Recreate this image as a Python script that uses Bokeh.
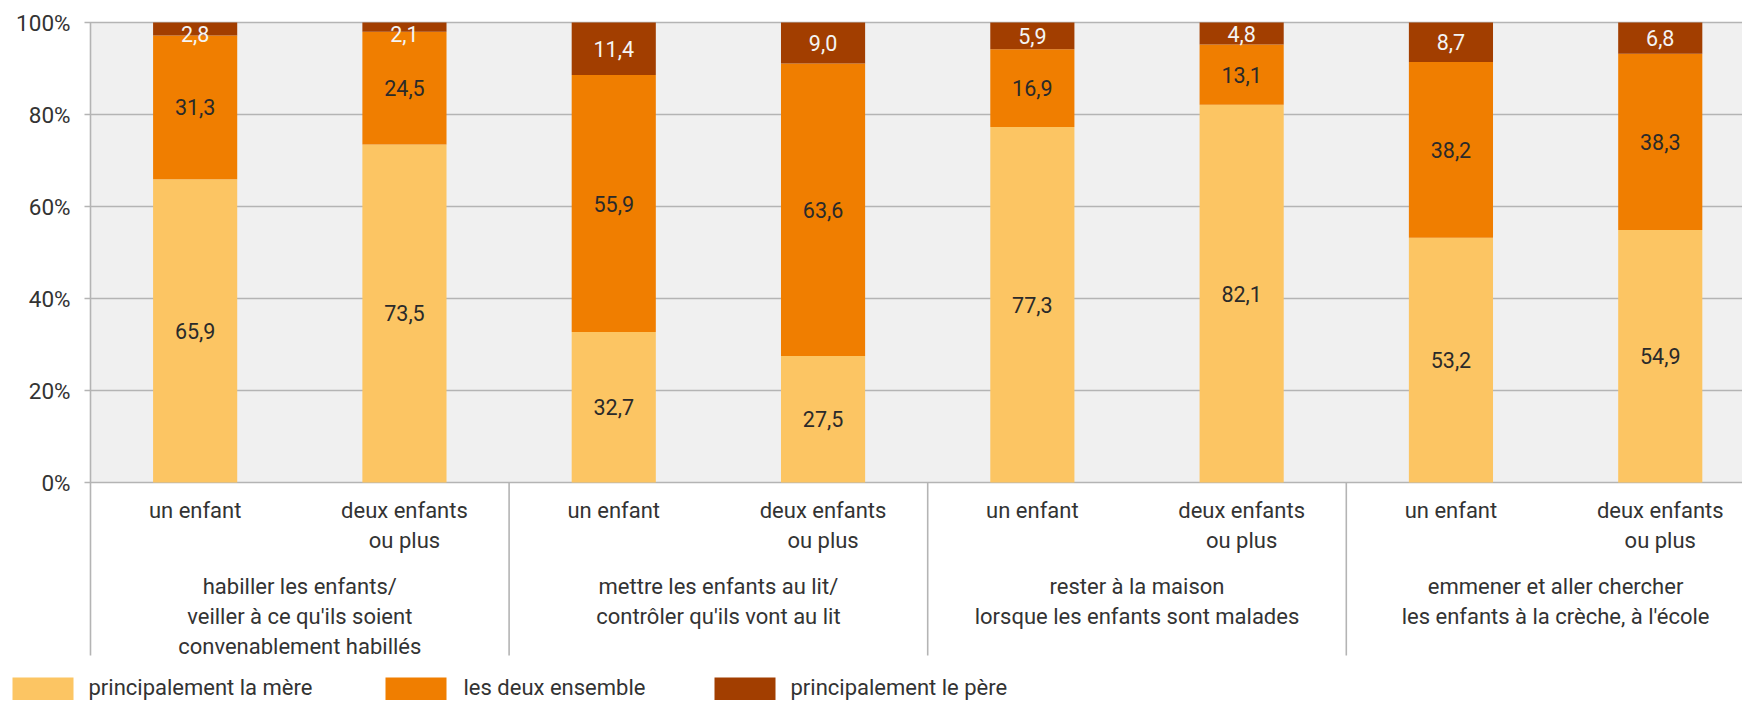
from bokeh.plotting import figure
from bokeh.models import Range1d
from bokeh.core.properties import value
from bokeh.embed import file_html
from bokeh.resources import INLINE

# ---------------- data ----------------
groups = [
    "habiller les enfants/\nveiller à ce qu'ils soient\nconvenablement habillés",
    "mettre les enfants au lit/\ncontrôler qu'ils vont au lit",
    "rester à la maison\nlorsque les enfants sont malades",
    "emmener et aller chercher\nles enfants à la crèche, à l'école",
]
subgroups = ["un enfant", "deux enfants\nou plus"]
series_names = ["principalement la mère", "les deux ensemble", "principalement le père"]
mere = [65.9, 73.5, 32.7, 27.5, 77.3, 82.1, 53.2, 54.9]
ensemble = [31.3, 24.5, 55.9, 63.6, 16.9, 13.1, 38.2, 38.3]
pere = [2.8, 2.1, 11.4, 9.0, 5.9, 4.8, 8.7, 6.8]
ytick_values = [0, 20, 40, 60, 80, 100]
ytick_labels = ["0%", "20%", "40%", "60%", "80%", "100%"]

colors = ["#FCC563", "#F07E00", "#A23E00"]
label_colors = ["#2a2a2a", "#2a2a2a", "#F4F4F4"]
BG = "#F0F0F0"
GRID = "#B4B4B4"
TXT = "#333333"
FONT = value("Roboto")

# ---------------- layout constants (pixels in the picture) ----------------
PX = 209.3   # px per category slot
PY = 4.6     # px per percent
X0_PAGE = 90   # picture x of data x=0
Y0_PAGE = 482  # picture y of data y=0
W, H = 1742, 700


def xpx(px):
    return (px - X0_PAGE) / PX


def ypx(py):
    return (Y0_PAGE - py) / PY


p = figure(width=W, height=H, output_backend="svg", toolbar_location=None,
           x_range=Range1d(xpx(0), xpx(W)), y_range=Range1d(ypx(H), ypx(0)),
           min_border=0, min_border_left=0, min_border_right=0,
           min_border_top=0, min_border_bottom=0)
p.axis.visible = False
p.grid.visible = False
p.outline_line_color = None
p.background_fill_color = "white"
p.border_fill_color = "white"

n = len(mere)
xs = [i + 0.5 for i in range(n)]
ngroups = len(groups)
nsub = len(subgroups)

# background of the plotting area
p.quad(left=[0], right=[xpx(W + 30)], bottom=[0], top=[100], fill_color=BG, line_color=None)

# gridlines + tick marks
p.segment(x0=[xpx(84)] * len(ytick_values), x1=[xpx(W + 30)] * len(ytick_values),
          y0=ytick_values, y1=ytick_values, line_color=GRID, line_width=1.6)

# stacked bars
series = [mere, ensemble, pere]
bottoms = [0.0] * n
label_x, label_y, label_t, label_c = [], [], [], []
for s_idx, vals in enumerate(series):
    tops = [b + v for b, v in zip(bottoms, vals)]
    p.vbar(x=xs, width=0.402, bottom=bottoms, top=[min(t, 100) for t in tops],
           fill_color=colors[s_idx], line_color=None)
    for i in range(n):
        c = (bottoms[i] + min(tops[i], 100)) / 2
        if s_idx == len(series) - 1:
            c = min(c, 97.4)
        label_x.append(xs[i])
        label_y.append(c)
        label_t.append(f"{vals[i]:.1f}".replace(".", ","))
        label_c.append(label_colors[s_idx])
    bottoms = tops

p.text(x=label_x, y=label_y, text=label_t, text_color=label_c,
       text_font=FONT, text_font_size="21.5px", text_align="center", text_baseline="middle")

# vertical axis line and group separators
sep_bottom = ypx(655)
sep_x = [g * nsub for g in range(ngroups)]
p.segment(x0=[0], x1=[0], y0=[100], y1=[0], line_color=GRID, line_width=1.6)
p.segment(x0=sep_x, x1=sep_x, y0=[0] * len(sep_x), y1=[sep_bottom] * len(sep_x),
          line_color=GRID, line_width=1.6)

# y tick labels
p.text(x=[xpx(70)] * len(ytick_values), y=ytick_values, text=ytick_labels, text_color=TXT,
       text_font=FONT, text_font_size="22.5px", text_align="right", text_baseline="middle")

# sub-category labels (multi-line split into rows)
LINE = 30 / PY
sx, sy, st = [], [], []
for i in range(n):
    lines = subgroups[i % nsub].split("\n")
    for k, ln in enumerate(lines):
        sx.append(xs[i])
        sy.append(ypx(510) - k * LINE)
        st.append(ln)
p.text(x=sx, y=sy, text=st, text_color=TXT, text_font=FONT, text_font_size="22px",
       text_align="center", text_baseline="middle")

# group labels
gx, gy, gt = [], [], []
for g, name in enumerate(groups):
    for k, ln in enumerate(name.split("\n")):
        gx.append(g * nsub + nsub / 2)
        gy.append(ypx(586) - k * LINE)
        gt.append(ln)
p.text(x=gx, y=gy, text=gt, text_color=TXT, text_font=FONT, text_font_size="22px",
       text_align="center", text_baseline="middle")

# legend
leg_sq_left = [12, 385, 714]
leg_txt_left = [88, 463, 790]
p.quad(left=[xpx(v) for v in leg_sq_left], right=[xpx(v + 61) for v in leg_sq_left],
       top=[ypx(677)] * 3, bottom=[ypx(H + 20)] * 3, fill_color=colors, line_color=None)
p.text(x=[xpx(v) for v in leg_txt_left], y=[ypx(687)] * 3, text=series_names,
       text_color=TXT, text_font=FONT, text_font_size="22px",
       text_align="left", text_baseline="middle")

open("out.html", "w").write(file_html(p, INLINE))
